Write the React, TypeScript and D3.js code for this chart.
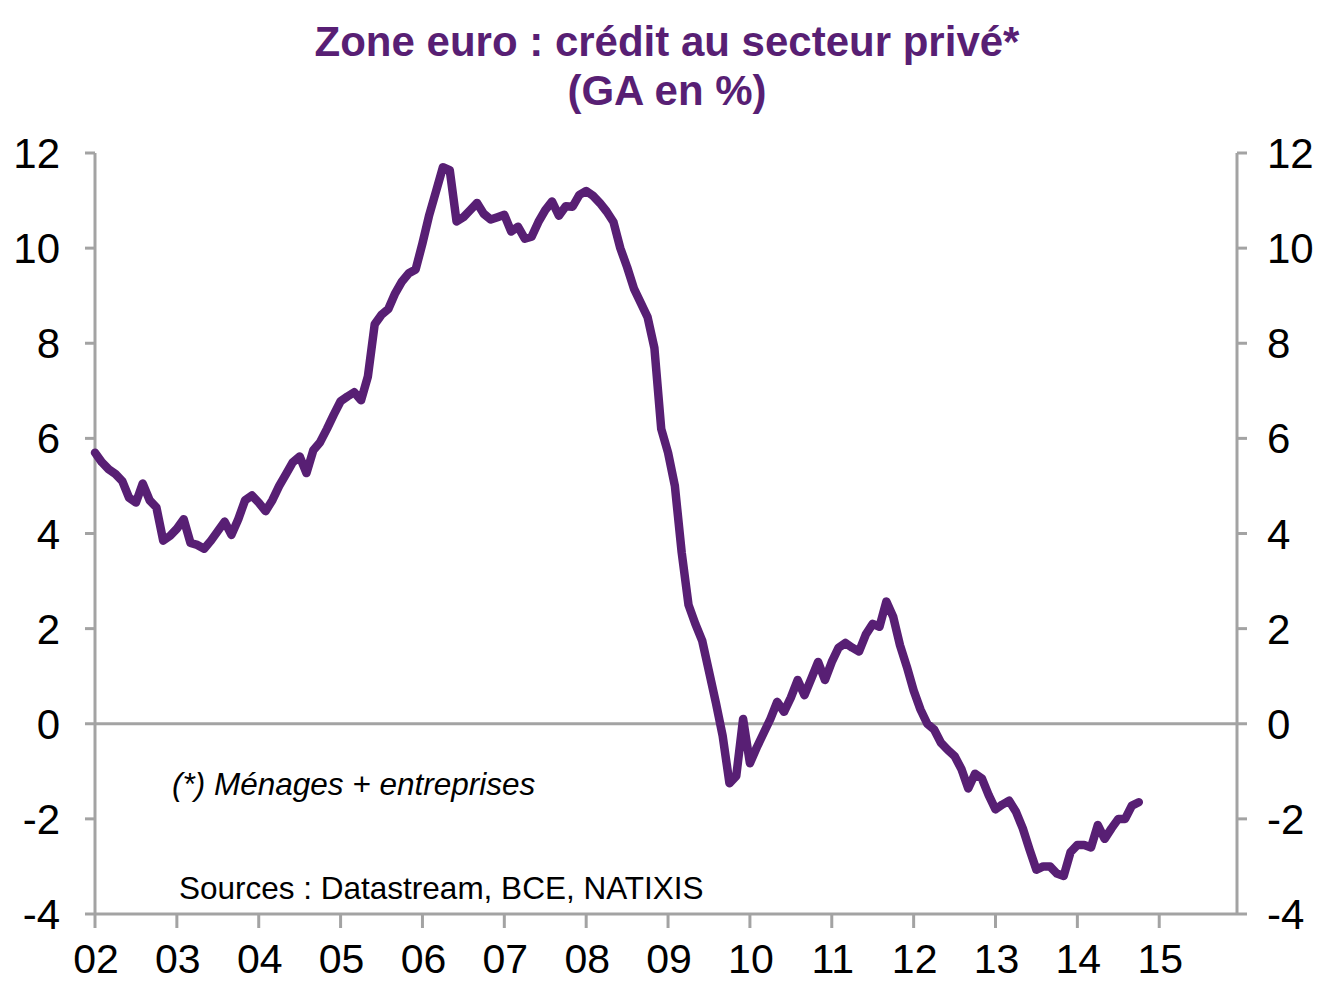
import React from "react";
import * as d3 from "d3";

// Zone euro : crédit au secteur privé, GA en %, données mensuelles depuis janv. 2002
const startYear = 2002;
const credit2002 = [5.7, 5.5, 5.35, 5.25, 5.1, 4.75, 4.65, 5.05, 4.7, 4.55, 3.85, 3.95];
const credit2003 = [4.1, 4.3, 3.8, 3.76, 3.68, 3.85, 4.05, 4.25, 3.97, 4.3, 4.7, 4.8];
const credit2004 = [4.65, 4.47, 4.7, 5.0, 5.25, 5.5, 5.62, 5.27, 5.75, 5.92, 6.2, 6.5];
const credit2005 = [6.78, 6.88, 6.97, 6.8, 7.3, 8.4, 8.6, 8.72, 9.05, 9.3, 9.47, 9.55];
const credit2006 = [10.1, 10.7, 11.2, 11.7, 11.64, 10.56, 10.65, 10.8, 10.95, 10.72, 10.6, 10.65];
const credit2007 = [10.7, 10.35, 10.45, 10.2, 10.24, 10.55, 10.8, 10.98, 10.68, 10.88, 10.87, 11.12];
const credit2008 = [11.2, 11.1, 10.95, 10.77, 10.55, 10.0, 9.6, 9.15, 8.85, 8.55, 7.9, 6.2];
const credit2009 = [5.7, 5.0, 3.6, 2.5, 2.1, 1.75, 1.1, 0.45, -0.25, -1.25, -1.1, 0.1];
const credit2010 = [-0.83, -0.5, -0.2, 0.1, 0.46, 0.25, 0.55, 0.92, 0.6, 0.95, 1.3, 0.92];
const credit2011 = [1.3, 1.6, 1.7, 1.6, 1.52, 1.88, 2.1, 2.04, 2.57, 2.25, 1.65, 1.2];
const credit2012 = [0.7, 0.3, 0.0, -0.12, -0.4, -0.55, -0.68, -0.95, -1.36, -1.05, -1.15, -1.5];
const credit2013 = [-1.8, -1.7, -1.62, -1.85, -2.2, -2.65, -3.07, -3.0, -3.0, -3.15, -3.2, -2.7];
const credit2014 = [-2.55, -2.55, -2.6, -2.13, -2.42, -2.2, -2.0, -2.0, -1.72, -1.65];

const credit = [
  ...credit2002, ...credit2003, ...credit2004, ...credit2005, ...credit2006,
  ...credit2007, ...credit2008, ...credit2009, ...credit2010, ...credit2011,
  ...credit2012, ...credit2013, ...credit2014,
];

const yearTicks = [2002, 2003, 2004, 2005, 2006, 2007, 2008, 2009, 2010, 2011, 2012, 2013, 2014, 2015];
const yTicks = [-4, -2, 0, 2, 4, 6, 8, 10, 12];

const W = 1321;
const H = 983;
const purple = "#581f74";
const grey = "#a3a3a3";
const font = "'Liberation Sans', Arial, sans-serif";

export default function App() {
  const x = d3.scaleLinear().domain([2002, 2015.95]).range([95, 1237]);
  const y = d3.scaleLinear().domain([-4, 12]).range([914, 153]);

  const points = credit.map((v, i) => ({ t: startYear + i / 12, v }));
  const line = d3
    .line<{ t: number; v: number }>()
    .x((d) => x(d.t))
    .y((d) => y(d.v));

  const [x0, x1] = x.range();
  const [yBottom, yTop] = y.range();

  return (
    <svg
      width={W}
      height={H}
      style={{ position: "absolute", left: 0, top: 0, background: "#fff" }}
      fontFamily={font}
    >
      {/* titre */}
      <text x={667} y={56} textAnchor="middle" fontSize={42} fontWeight="bold" fill={purple}>
        Zone euro : crédit au secteur privé*
      </text>
      <text x={667} y={105} textAnchor="middle" fontSize={42} fontWeight="bold" fill={purple}>
        (GA en %)
      </text>

      {/* axes */}
      <g stroke={grey} strokeWidth={3} fill="none">
        <line x1={x0} x2={x0} y1={yTop} y2={yBottom} />
        <line x1={x1} x2={x1} y1={yTop} y2={yBottom} />
        <line x1={x0} x2={x1} y1={yBottom} y2={yBottom} />
        <line x1={x0} x2={x1} y1={y(0)} y2={y(0)} />
        {yTicks.map((t) => (
          <g key={t}>
            <line x1={x0 - 10} x2={x0} y1={y(t)} y2={y(t)} />
            <line x1={x1} x2={x1 + 10} y1={y(t)} y2={y(t)} />
          </g>
        ))}
        {yearTicks.map((t) => (
          <line key={t} x1={x(t)} x2={x(t)} y1={yBottom} y2={yBottom + 14} />
        ))}
      </g>

      <g fontSize={42} fill="#000">
        {yTicks.map((t) => (
          <g key={t}>
            <text x={60} y={y(t)} dy="0.36em" textAnchor="end">{t}</text>
            <text x={1267} y={y(t)} dy="0.36em" textAnchor="start">{t}</text>
          </g>
        ))}
      </g>
      <g fontSize={41} fill="#000">
        {yearTicks.map((t) => (
          <text key={t} x={x(t) + 1} y={973} textAnchor="middle">
            {String(t % 100).padStart(2, "0")}
          </text>
        ))}
      </g>

      {/* notes */}
      <text x={172} y={795} fontSize={31.5} fontStyle="italic" fill="#000">
        (*) Ménages + entreprises
      </text>
      <text x={179} y={899} fontSize={31.5} fill="#000">
        Sources : Datastream, BCE, NATIXIS
      </text>

      {/* série */}
      <path d={line(points) ?? ""} fill="none" stroke={purple} strokeWidth={8.5}
        strokeLinejoin="round" strokeLinecap="round" />
    </svg>
  );
}
